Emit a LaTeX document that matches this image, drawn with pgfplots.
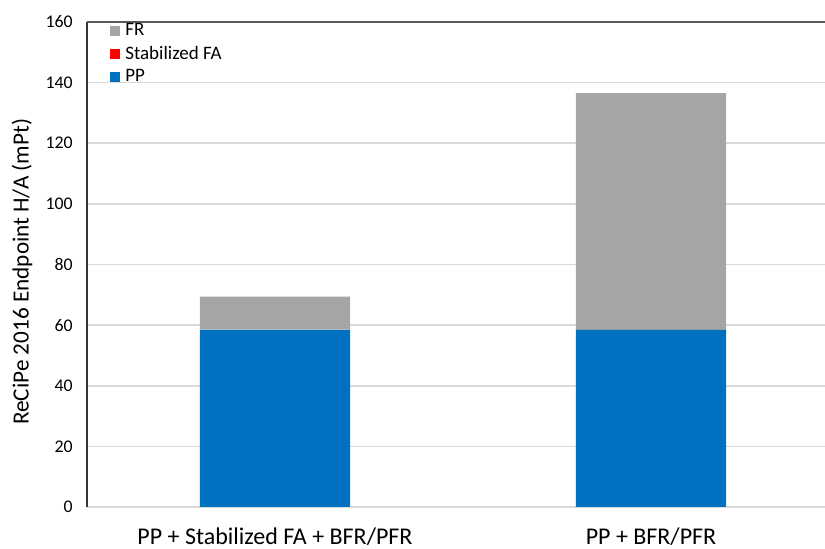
\documentclass[border=0pt]{standalone}
\usepackage{pgfplots}
\pgfplotsset{compat=1.18}
\usepackage{fontspec}
\setmainfont{Carlito}
\definecolor{ppblue}{HTML}{0070C0}
\definecolor{frgray}{HTML}{A5A5A5}
\definecolor{fared}{HTML}{FF0000}
\definecolor{gridgray}{HTML}{D9D9D9}
\definecolor{axisdark}{HTML}{595959}

\begin{document}
\begin{tikzpicture}[x=1pt,y=1pt]
\useasboundingbox (-43.5,-21) rectangle (369,253.5);
\begin{axis}[
  at={(0,0)}, anchor=south west,
  scale only axis, width=369pt, height=242.5pt,
  ybar stacked, bar width=0.4,
  xmin=-0.5, xmax=1.4628, ymin=0, ymax=160,
  xtick={0,1},
  xticklabels={PP + Stabilized FA + BFR/PFR, PP + BFR/PFR},
  ytick={0,20,...,160},
  axis lines=left,
  axis line style={-},
  x axis line style={gridgray, line width=0.8pt},
  y axis line style={black!80, line width=0.6pt},
  major tick length=0pt,
  ymajorgrids,
  grid style={gridgray, line width=0.8pt},
  /pgf/number format/assume math mode=true,
  yticklabel style={font=\fontsize{8.9}{10}\selectfont, anchor=east, inner sep=0pt, xshift=-7pt},
  xticklabel style={font=\fontsize{12}{14}\selectfont, anchor=base, inner sep=0pt, yshift=-18.6pt},
  ylabel={ReCiPe 2016 Endpoint H/A (mPt)},
  ylabel style={font=\fontsize{11.6}{13}\selectfont, at={(axis description cs:-0.088,0.485)}, anchor=center},
  legend style={at={(rel axis cs:0.031,1.004)}, anchor=north west, draw=none, fill=none,
    font=\fontsize{9.5}{10}\selectfont, inner sep=0pt, row sep=0.65pt,
    nodes={inner sep=1.5pt}},
  legend cell align=left,
  legend image code/.code={\path (0pt,0pt) -- (6pt,0pt);\fill[#1] (0pt,-2.5pt) rectangle (5pt,2.5pt);},
  reverse legend,
]
\addplot[fill=ppblue, draw=none] coordinates {(0,58.4) (1,58.4)};
\addplot[fill=fared, draw=none] coordinates {(0,0.1) (1,0)};
\addplot[fill=frgray, draw=none] coordinates {(0,10.9) (1,78.1)};
\legend{PP, Stabilized FA, FR}
\draw[axisdark, line width=1.2pt] (rel axis cs:0,1) -- (rel axis cs:1,1);
\end{axis}
\end{tikzpicture}
\end{document}
